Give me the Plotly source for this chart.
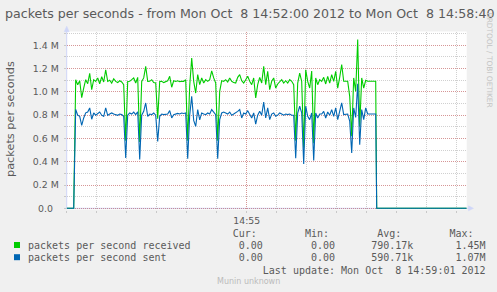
import plotly.graph_objects as go
from datetime import datetime, timedelta

# ---------------- data ----------------
start_time = "2012-10-08 14:52:00"
end_time = "2012-10-08 14:58:40"
first_sample_s = 9
sample_step_s = 2
lead_zero_s = [0, 7]
trail_zero_s = [310, 400]

# packets per second received (millions), one value per 2 s from 14:52:09
received_mpps = [
    1.105, 1.062, 1.096, 0.95, 1.033, 1.105, 1.07, 1.16, 1.02, 1.105,
    1.09, 1.12, 1.07, 1.13, 1.085, 1.19, 1.09, 1.10, 1.076, 1.113,
    1.09, 1.08, 1.096, 1.085, 1.062, 0.58, 1.09, 1.091, 1.105, 1.12,
    1.076, 1.125, 0.57, 1.09, 1.12, 1.22, 1.09, 1.091, 1.105, 1.08,
    1.076, 0.77, 1.09, 1.091, 1.08, 1.091, 1.096, 1.134, 1.04, 1.096,
    1.09, 1.095, 1.088, 1.092, 1.09, 1.105, 0.58, 1.05, 1.29, 1.091,
    0.99, 1.148, 1.062, 1.12, 1.076, 1.105, 1.091, 1.105, 1.18, 1.12,
    1.076, 0.58, 1.005, 1.096, 1.09, 1.105, 1.085, 1.12, 1.091, 1.08,
    1.076, 1.125, 1.148, 1.096, 1.076, 1.105, 1.134, 1.091, 1.062, 1.12,
    0.948, 1.062, 1.125, 1.076, 1.22, 1.062, 1.177, 1.019, 1.091, 1.12,
    1.033, 1.068, 1.091, 1.105, 1.076, 1.096, 1.076, 1.105, 1.091, 1.062,
    0.58, 1.076, 1.162, 1.09, 0.52, 1.19, 1.091, 1.033, 1.18, 0.56,
    1.12, 1.062, 1.105, 1.091, 1.125, 1.068, 1.134, 1.076, 1.148, 1.091,
    1.177, 1.033, 1.125, 1.235, 1.091, 1.09, 1.091, 0.962, 0.62, 1.12,
    1.005, 1.45, 0.70, 1.12, 1.033, 1.10, 1.091, 1.091, 1.091, 1.091,
    1.091,
]

# packets per second sent (millions)
sent_mpps = [
    0.85, 0.80, 0.79, 0.713, 0.776, 0.82, 0.827, 0.862, 0.765, 0.819,
    0.80, 0.81, 0.827, 0.80, 0.79, 0.862, 0.799, 0.81, 0.819, 0.81,
    0.805, 0.799, 0.81, 0.805, 0.79, 0.432, 0.80, 0.819, 0.81, 0.827,
    0.805, 0.83, 0.42, 0.80, 0.833, 0.905, 0.79, 0.81, 0.805, 0.819,
    0.80, 0.575, 0.79, 0.81, 0.805, 0.81, 0.81, 0.839, 0.776, 0.805,
    0.81, 0.815, 0.81, 0.819, 0.815, 0.819, 0.426, 0.80, 0.962, 0.755,
    0.704, 0.848, 0.76, 0.819, 0.81, 0.805, 0.819, 0.81, 0.848, 0.83,
    0.805, 0.426, 0.762, 0.819, 0.827, 0.819, 0.81, 0.827, 0.80, 0.81,
    0.819, 0.833, 0.848, 0.776, 0.819, 0.81, 0.839, 0.81, 0.776, 0.819,
    0.724, 0.80, 0.833, 0.80, 0.913, 0.776, 0.862, 0.762, 0.81, 0.819,
    0.79, 0.80, 0.819, 0.81, 0.80, 0.81, 0.805, 0.81, 0.80, 0.799,
    0.43, 0.819, 0.877, 0.82, 0.38, 0.877, 0.79, 0.762, 0.819, 0.41,
    0.819, 0.776, 0.81, 0.81, 0.833, 0.776, 0.827, 0.80, 0.848, 0.79,
    0.862, 0.762, 0.83, 0.905, 0.805, 0.81, 0.81, 0.75, 0.475, 0.862,
    0.78, 1.07, 0.546, 0.848, 0.762, 0.862, 0.81, 0.81, 0.81, 0.81,
    0.81,
]

y_tick_values = [0, 200000, 400000, 600000, 800000, 1000000, 1200000, 1400000]
y_tick_labels = ["0.0  ", "0.2 M", "0.4 M", "0.6 M", "0.8 M", "1.0 M", "1.2 M", "1.4 M"]
x_tick_values = ["2012-10-08 14:55:00"]
x_tick_labels = ["14:55"]

title_text = "packets per seconds - from Mon Oct  8 14:52:00 2012 to Mon Oct  8 14:58:40"
y_title = "packets per seconds"
legend_names = ["packets per second received", "packets per second sent"]
legend_colors = ["#00CC00", "#0066B3"]
legend_headers = ["Cur:", "Min:", "Avg:", "Max:"]
cur_values = ["0.00 ", "0.00 "]
min_values = ["0.00 ", "0.00 "]
avg_values = ["790.17k", "590.71k"]
max_values = ["1.45M", "1.07M"]
last_update = "Last update: Mon Oct  8 14:59:01 2012"
footer = "Munin unknown"
watermark = "RRDTOOL / TOBI OETIKER"

# ---------------- helpers ----------------
W, H = 497, 292


def px(x):
    return x / W


def py(y):
    return 1 - y / H


t0 = datetime.fromisoformat(start_time)


def build(vals):
    secs = lead_zero_s + [first_sample_s + sample_step_s * i for i in range(len(vals))] + trail_zero_s
    ys = [0.0] * len(lead_zero_s) + [v * 1e6 for v in vals] + [0.0] * len(trail_zero_s)
    xs = [t0 + timedelta(seconds=s) for s in secs]
    return xs, ys


fig = go.Figure()
for vals, color in zip([received_mpps, sent_mpps], legend_colors):
    xs, ys = build(vals)
    fig.add_trace(go.Scatter(x=xs, y=ys, mode="lines",
                             line=dict(color=color, width=1.1),
                             hoverinfo="skip"))

TXT = "#5a5a5a"
GRID = "rgba(143,143,143,0.42)"
MGRID = "rgba(222,79,79,0.45)"
AXIS = "#CFD6F8"
DASH = "1px,1px"
SANS = "DejaVu Sans"
MONO = "DejaVu Sans Mono"

# y mapping: value 0 at pixel 208.3, 116.4 px per 1M
y0_px, ppm = 208.3, 116.4
dom_bot, dom_top = 209.5, 31.5
y_lo = -(dom_bot - y0_px) / ppm * 1e6
y_hi = (y0_px - dom_top) / ppm * 1e6

fig.update_layout(
    width=W, height=H,
    margin=dict(l=0, r=0, t=0, b=0),
    paper_bgcolor="#F0F0F0",
    plot_bgcolor="#FFFFFF",
    showlegend=False,
    xaxis=dict(
        type="date",
        range=[start_time, end_time],
        domain=[px(66.7), px(466.7)],
        tickmode="array", tickvals=x_tick_values, ticktext=x_tick_labels,
        showgrid=True, gridcolor=MGRID, griddash=DASH, gridwidth=1,
        ticks="outside", ticklen=2, tickcolor="#C8C8C8",
        tickfont=dict(family=SANS, size=9.3, color=TXT),
        showline=False, zeroline=False, automargin=False, fixedrange=True,
        minor=dict(tickmode="linear", tick0=start_time, dtick=30000,
                   showgrid=True, gridcolor=GRID, griddash=DASH, gridwidth=1,
                   ticks="outside", ticklen=2, tickcolor="#C8C8C8"),
    ),
    yaxis=dict(
        range=[y_lo, y_hi],
        domain=[py(dom_bot), py(dom_top)],
        tickmode="array", tickvals=y_tick_values,
        ticktext=[t.replace(" ", "\u00a0") for t in y_tick_labels],
        showgrid=True, gridcolor=MGRID, griddash=DASH, gridwidth=1,
        ticks="outside", ticklen=2, tickcolor="#C8C8C8",
        tickfont=dict(family=SANS, size=9.4, color=TXT),
        ticklabelstandoff=3,
        showline=False, zeroline=False, automargin=False, fixedrange=True,
        minor=dict(tickmode="linear", tick0=0, dtick=100000,
                   showgrid=True, gridcolor=GRID, griddash=DASH, gridwidth=1,
                   ticks="outside", ticklen=2, tickcolor="#C8C8C8"),
    ),
)

shapes = [
    # y axis line + arrow
    dict(type="line", xref="paper", yref="paper", x0=px(66.7), x1=px(66.7),
         y0=py(208.8), y1=py(29), line=dict(color=AXIS, width=1), layer="below"),
    dict(type="path", xref="paper", yref="paper",
         path=f"M {px(64.2)} {py(31.7)} L {px(69.2)} {py(31.7)} L {px(66.7)} {py(26.2)} Z",
         fillcolor=AXIS, line=dict(color=AXIS, width=0.5), layer="below"),
    # x axis line + arrow
    dict(type="line", xref="paper", yref="paper", x0=px(64.5), x1=px(470),
         y0=py(208.3), y1=py(208.3), line=dict(color=AXIS, width=1), layer="below"),
    dict(type="path", xref="paper", yref="paper",
         path=f"M {px(468.5)} {py(205.8)} L {px(468.5)} {py(210.8)} L {px(473.5)} {py(208.3)} Z",
         fillcolor=AXIS, line=dict(color=AXIS, width=0.5), layer="below"),
]
# legend swatches
for i, c in enumerate(legend_colors):
    yc = 245.0 + 12.2 * i
    shapes.append(dict(type="rect", xref="paper", yref="paper",
                       x0=px(14), x1=px(20), y0=py(yc - 3), y1=py(yc + 3),
                       fillcolor=c, line=dict(width=0)))
fig.update_layout(shapes=shapes)

NB = "\u00a0"
header = " " * 28 + "".join(h.rjust(10) + "  " for h in legend_headers)
rows = []
for i, name in enumerate(legend_names):
    rows.append(name.ljust(28) + cur_values[i].rjust(12) + min_values[i].rjust(12)
                + avg_values[i].rjust(12) + max_values[i].rjust(12))
upd = last_update.rjust(76)

ann = []
ann.append(dict(x=px(4), y=py(13.3), text=title_text.replace(" ", NB),
                xanchor="left", yanchor="middle",
                font=dict(family=SANS, size=12.6, color=TXT)))
ann.append(dict(x=px(11), y=py(119), text=y_title, textangle=-90,
                xanchor="center", yanchor="middle",
                font=dict(family=SANS, size=11.3, color=TXT)))
ann.append(dict(x=px(488.5), y=py(60), text=watermark, textangle=90,
                xanchor="center", yanchor="middle",
                font=dict(family=SANS, size=7.4, color="#C4C4C4")))
mono_lines = [(header, 233.3), (rows[0], 245.5), (rows[1], 257.7), (upd, 270.0)]
for txt, yy in mono_lines:
    ann.append(dict(x=px(26.7), y=py(yy), text=txt.replace(" ", NB),
                    xanchor="left", yanchor="middle",
                    font=dict(family=MONO, size=10, color=TXT)))
ann.append(dict(x=px(248.5), y=py(281.5), text=footer,
                xanchor="center", yanchor="middle",
                font=dict(family=SANS, size=8, color="#BBBBBB")))
for a in ann:
    a.update(xref="paper", yref="paper", showarrow=False, borderpad=0)
fig.update_layout(annotations=ann)

fig.write_html("out.html")
